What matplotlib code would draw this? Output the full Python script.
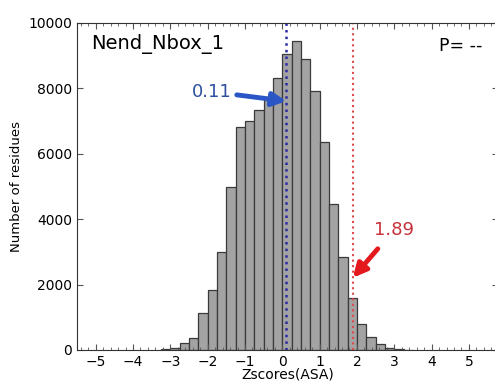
import matplotlib
matplotlib.use('Agg')
import matplotlib.pyplot as plt
from matplotlib.ticker import MultipleLocator

# histogram of z-scores, bins of 0.25 starting at -3.25
bin_left = [-3.25, -3.0, -2.75, -2.5, -2.25, -2.0, -1.75, -1.5, -1.25, -1.0,
            -0.75, -0.5, -0.25, 0.0, 0.25, 0.5, 0.75, 1.0, 1.25, 1.5,
            1.75, 2.0, 2.25, 2.5, 2.75, 3.0, 3.25]
counts = [25, 75, 200, 375, 1130, 1845, 2985, 4995, 6825, 7000,
          7340, 7650, 8320, 9045, 9435, 8910, 7915, 6370, 4460, 2830,
          1575, 785, 395, 190, 65, 25, 10]
bin_width = 0.25

mean_z = 0.11
cut_z = 1.89
title = 'Nend_Nbox_1'
pval = 'P= --'

fig = plt.figure(figsize=(4.95, 3.82), dpi=100)
ax = fig.add_axes([0.1556, 0.0838, 0.8505, 0.856])

ax.bar(bin_left, counts, width=bin_width, align='edge',
       color='#a3a3a3', edgecolor='#3a3a3a', linewidth=0.9)

ax.axvline(mean_z, color='#2b2ba0', linestyle=':', linewidth=1.8)
ax.axvline(cut_z, color='#e0474c', linestyle=':', linewidth=1.5)

ax.annotate('%.2f' % mean_z, xy=(mean_z, 7610), xytext=(-1.9, 7900),
            color='#2f4f9f', fontsize=13, ha='center', va='center',
            arrowprops=dict(arrowstyle='-|>', color='#2a56c6', lw=3.5,
                            mutation_scale=20, shrinkA=2, shrinkB=0))
ax.annotate('%.2f' % cut_z, xy=(cut_z, 2210), xytext=(3.0, 3680),
            color='#c8323c', fontsize=13, ha='center', va='center',
            arrowprops=dict(arrowstyle='-|>', color='#e3191e', lw=3.5,
                            mutation_scale=20, shrinkA=7, shrinkB=0))

ax.text(-5.12, 9350, title, fontsize=14, ha='left', va='center')
ax.text(4.2, 9300, pval, fontsize=12.5, ha='left', va='center')

ax.set_xlim(-5.5, 5.78)
ax.set_ylim(0, 10000)
ax.set_xticks(range(-5, 6))
ax.set_yticks(range(0, 10001, 2000))
ax.xaxis.set_minor_locator(MultipleLocator(0.2))
ax.tick_params(direction='in', top=True, right=True, labelsize=10,
               length=4, color='#555555')
ax.tick_params(which='minor', direction='in', top=True, length=2.5,
               color='#555555')
ax.set_xlabel('Zscores(ASA)', fontsize=10, labelpad=-1)
ax.set_ylabel('Number of residues', fontsize=9.5)
for s in ax.spines.values():
    s.set_color('#333333')

plt.savefig('out.png', dpi=100)
